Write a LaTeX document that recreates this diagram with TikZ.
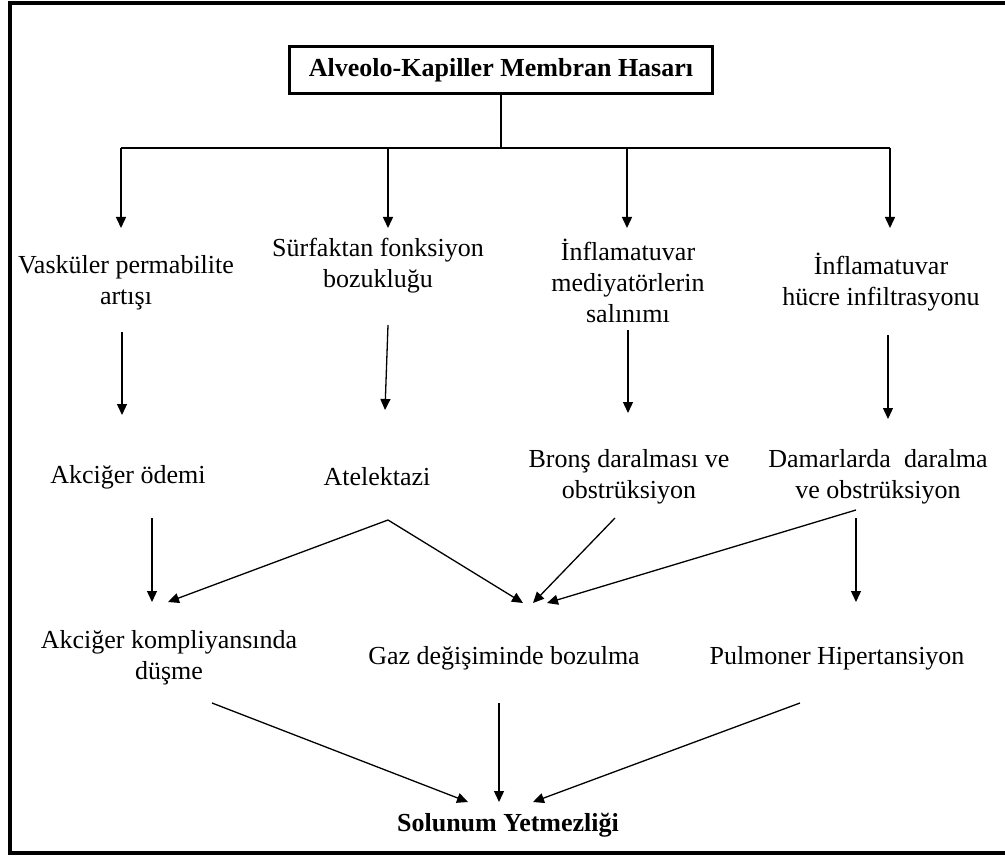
\documentclass[tikz,border=0pt]{standalone}
\usepackage{fontspec}
\setmainfont{Liberation Serif}
\usepackage{tikz}
\usetikzlibrary{arrows.meta}

\begin{document}
\begin{tikzpicture}[x=1pt, y=-1pt, font=\fontsize{26}{31}\selectfont,
	lbl/.style={inner sep=0pt, align=center},
	arr/.style={line width=1.3pt, -{Triangle[length=11pt,width=10pt]}},
	bus/.style={line width=2.5pt}]
	\useasboundingbox (0,0) rectangle (1005,856);
	\draw[line width=3.5pt] (1005,3) -- (10,3) -- (10,853) -- (1005,853);

	\node[draw, line width=2.5pt, minimum width=423pt, minimum height=47pt, font=\fontsize{26}{31}\selectfont\bfseries] (hasar) at (501,70) {Alveolo-Kapiller Membran Hasarı};

	\node[lbl] (vask) at (126,283) {Vasküler permabilite\\artışı};
	\node[lbl] (surf) at (378,266) {Sürfaktan fonksiyon\\bozukluğu};
	\node[lbl] (infm) at (628,281) {İnflamatuvar\\mediyatörlerin\\salınımı};
	\node[lbl] (infh) at (881,282) {İnflamatuvar\\hücre infiltrasyonu};

	\node[lbl] (odem) at (128,477) {Akciğer ödemi};
	\node[lbl] (atel) at (377,477) {Atelektazi};
	\node[lbl] (brons) at (629,477) {Bronş daralması ve\\obstrüksiyon};
	\node[lbl] (damar) at (878,477) {Damarlarda\ \ daralma\\ve obstrüksiyon};

	\node[lbl] (komp) at (169,658) {Akciğer kompliyansında\\düşme};
	\node[lbl] (gaz) at (504,658) {Gaz değişiminde bozulma};
	\node[lbl] (pulm) at (837,658) {Pulmoner Hipertansiyon};

	\node[lbl, font=\fontsize{26}{31}\selectfont\bfseries] (sol) at (508,825) {Solunum Yetmezliği};

	\coordinate (j0) at (501,148);
	\coordinate (j1) at (121,148);
	\coordinate (j2) at (388,148);
	\coordinate (j3) at (627,148);
	\coordinate (j4) at (890,148);

	\draw[bus] (hasar) -- (j0);
	\draw[bus] (j1) -- (j4);
	\draw[arr, line width=1.5pt] (j1) -- ([shift={(-5,-55)}]vask.center);
	\draw[arr, line width=1.5pt] (j2) -- ([shift={(10,-38)}]surf.center);
	\draw[arr, line width=1.5pt] (j3) -- ([shift={(-1,-53)}]infm.center);
	\draw[arr, line width=1.5pt] (j4) -- ([shift={(9,-54)}]infh.center);

	\draw[arr] ([shift={(-4,49)}]vask.center) -- ([shift={(-6,-62)}]odem.center);
	\draw[arr] ([shift={(10,59)}]surf.center) -- ([shift={(8,-67)}]atel.center);
	\draw[arr] ([shift={(0,49)}]infm.center) -- ([shift={(-1,-64)}]brons.center);
	\draw[arr] ([shift={(7,53)}]infh.center) -- ([shift={(10,-58)}]damar.center);

	\draw[arr] ([shift={(24,41)}]odem.center) -- ([shift={(-17,-56)}]komp.center);
	\draw[arr] ([shift={(11,43)}]atel.center) -- ([shift={(-1,-56)}]komp.center);
	\draw[arr] ([shift={(11,43)}]atel.center) -- ([shift={(19,-55)}]gaz.center);
	\draw[arr] ([shift={(-14,41)}]brons.center) -- ([shift={(29,-55)}]gaz.center);
	\draw[arr] ([shift={(-22,33)}]damar.center) -- ([shift={(43,-55)}]gaz.center);
	\draw[arr] ([shift={(-22,41)}]damar.center) -- ([shift={(19,-56)}]pulm.center);

	\draw[arr] ([shift={(43,45)}]komp.center) -- ([shift={(-40,-23)}]sol.center);
	\draw[arr] ([shift={(-5,45)}]gaz.center) -- ([shift={(-9,-23)}]sol.center);
	\draw[arr] ([shift={(-37,45)}]pulm.center) -- ([shift={(25,-23)}]sol.center);
\end{tikzpicture}
\end{document}
